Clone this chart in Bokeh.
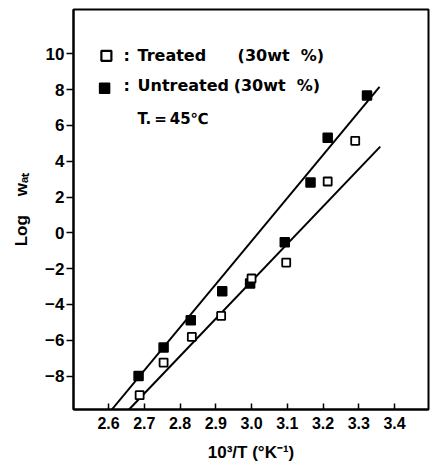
from bokeh.plotting import figure
from bokeh.models import Range1d, Label, FixedTicker
from bokeh.embed import file_html
from bokeh.resources import INLINE

# Data
untreated_x = [2.684, 2.754, 2.83, 2.918, 2.996, 3.093, 3.165, 3.213, 3.323]
untreated_y = [-8.0, -6.4, -4.88, -3.26, -2.83, -0.52, 2.81, 5.32, 7.67]
treated_x = [2.687, 2.754, 2.833, 2.915, 3.0, 3.097, 3.213, 3.29]
treated_y = [-9.07, -7.25, -5.81, -4.64, -2.55, -1.66, 2.87, 5.14]

upper_line_x = [2.608, 3.358]
upper_line_y = [-9.9, 8.16]
lower_line_x = [2.656, 3.36]
lower_line_y = [-9.9, 4.82]

x_ticks = [2.6, 2.7, 2.8, 2.9, 3.0, 3.1, 3.2, 3.3, 3.4]
x_tick_labels = ["2.6", "2.7", "2.8", "2.9", "3.0", "3.1", "3.2", "3.3", "3.4"]
y_ticks = [-8, -6, -4, -2, 0, 2, 4, 6, 8, 10]
y_tick_labels = ["\u22128", "\u22126", "\u22124", "\u22122", "0", "2", "4", "6", "8", "10"]

FONT = "Liberation Sans"
LFONT = "DejaVu Sans"
NB = "\u00a0"

p = figure(frame_width=355, frame_height=400, output_backend="svg",
           toolbar_location=None,
           x_range=Range1d(2.502, 3.495), y_range=Range1d(-9.87, 12.48),
           min_border_left=73, min_border_right=4, min_border_top=9,
           min_border_bottom=52)

p.grid.visible = False
p.background_fill_color = "white"
p.border_fill_color = "white"
p.outline_line_color = "black"
p.outline_line_width = 2

# axes
p.xaxis.ticker = FixedTicker(ticks=x_ticks)
p.xaxis.major_label_overrides = {t: l for t, l in zip(x_ticks, x_tick_labels)}
p.yaxis.ticker = FixedTicker(ticks=y_ticks)
p.yaxis.major_label_overrides = {t: l for t, l in zip(y_ticks, y_tick_labels)}

for ax in (p.xaxis[0], p.yaxis[0]):
    ax.axis_line_width = 2
    ax.major_tick_line_width = 1.5
    ax.minor_tick_line_color = None
    ax.major_label_text_font = FONT
    ax.major_label_text_font_style = "bold"
    ax.major_label_text_color = "#000000"
    ax.axis_label_text_font = FONT
    ax.axis_label_text_font_style = "bold"
    ax.axis_label_text_color = "#000000"

p.xaxis.major_tick_in = 6
p.xaxis.major_tick_out = 0
p.xaxis.major_label_text_font_size = "16px"
p.xaxis.major_label_standoff = 7
p.xaxis.axis_label = "10\u00b3/T" + NB + "(\u00b0K\u207b\u00b9)"
p.xaxis.axis_label_text_font_size = "17px"
p.xaxis.axis_label_standoff = 11

p.yaxis.major_tick_in = 0
p.yaxis.major_tick_out = 7
p.yaxis.major_label_text_font_size = "17px"
p.yaxis.major_label_standoff = 2
p.yaxis.axis_label = "Log" + NB * 4 + "w\u2090\u209c"
p.yaxis.axis_label_text_font_size = "17px"
p.yaxis.axis_label_standoff = 11

# fitted lines
p.line(upper_line_x, upper_line_y, line_color="black", line_width=2)
p.line(lower_line_x, lower_line_y, line_color="black", line_width=2)

# points
p.scatter(untreated_x, untreated_y, marker="square", size=9,
          fill_color="black", line_color="black", line_width=1.5)
p.scatter(treated_x, treated_y, marker="square", size=8,
          fill_color="white", line_color="black", line_width=1.8)

# legend key (drawn inside the frame)
p.scatter([2.594], [9.89], marker="square", size=10, fill_color="white",
          line_color="black", line_width=2.2)
p.scatter([2.589], [8.08], marker="square", size=10, fill_color="black",
          line_color="black", line_width=1.5)

for txt, x, y, fs in [(":", 2.642, 9.89, "16px"), ("Treated", 2.681, 9.89, "16px"),
                      ("(30wt" + NB * 2 + "%)", 2.961, 9.89, "16px"),
                      (":", 2.642, 8.25, "16px"), ("Untreated", 2.681, 8.25, "16px"),
                      ("(30wt" + NB * 2 + "%)", 2.95, 8.25, "16px"),
                      ("T.\u2009=\u200945\u2103", 2.681, 6.37, "15px")]:
    p.add_layout(Label(x=x, y=y, text=txt, text_font=LFONT,
                       text_font_size=fs, text_font_style="bold",
                       text_baseline="middle", text_color="black"))

open("out.html", "w").write(file_html(p, INLINE))
